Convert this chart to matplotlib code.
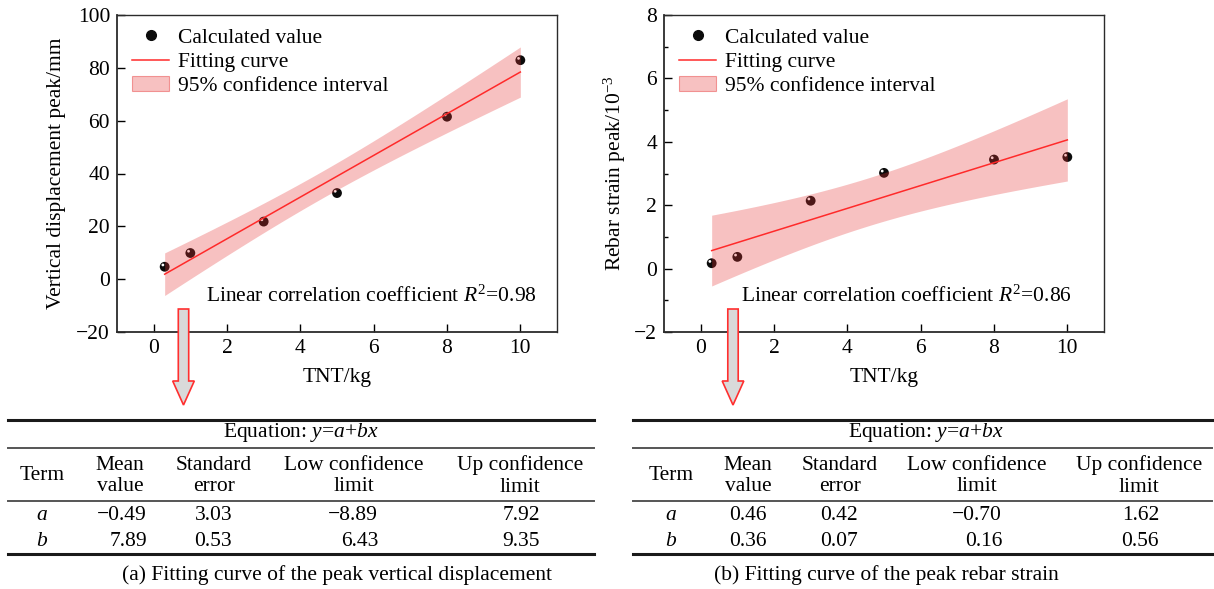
import numpy as np
import matplotlib
matplotlib.use('Agg')
import matplotlib.pyplot as plt
from matplotlib.transforms import Affine2D, offset_copy
from matplotlib.lines import Line2D
from matplotlib.patches import Patch, Polygon
from matplotlib.ticker import MultipleLocator

# Test data
tnt = [0.3, 1, 3, 5, 8, 10]
disp_peak = [4.7, 9.9, 21.8, 32.6, 61.5, 82.9]
strain_peak = [0.17, 0.37, 2.14, 3.02, 3.44, 3.52]

# Fit parameters: mean value, standard error, low limit, up limit
disp_a = [-0.49, 3.03, -8.89, 7.92]
disp_b = [7.89, 0.53, 6.43, 9.35]
strain_a = [0.46, 0.42, -0.70, 1.62]
strain_b = [0.36, 0.07, 0.16, 0.56]
r2_values = [0.98, 0.86]

col_heads = ['Term', 'Mean\nvalue', 'Standard\nerror', 'Low confidence\nlimit', 'Up confidence\nlimit']
captions = ['(a) Fitting curve of the peak vertical displacement',
            '(b) Fitting curve of the peak rebar strain']

W, H = 1214, 589
fs = 15.5
plt.rcParams['font.family'] = 'Liberation Serif'
plt.rcParams['mathtext.fontset'] = 'custom'
plt.rcParams['mathtext.rm'] = 'Liberation Serif'
plt.rcParams['mathtext.it'] = 'Liberation Serif:italic'
plt.rcParams['axes.unicode_minus'] = True

fig = plt.figure(figsize=(W / 100, H / 100), dpi=100)
# pixel coordinates measured from the top-left corner
PX = Affine2D().scale(1 / W, -1 / H).translate(0, 1) + fig.transFigure

band_color = (0.90, 0.20, 0.20, 0.30)
line_color = '#ff2a2a'


def panel(left, y, a, b, ylim, ystep, ylabel, r2, minor, r2_x, ylab_x):
    ax = fig.add_axes([left / W, (H - 332) / H, 440 / W, 317 / H])
    x = np.array(tnt)
    xs = np.linspace(x.min(), x.max(), 200)
    fit = a[0] + b[0] * xs
    t = (a[3] - a[0]) / a[1]
    var = a[1] ** 2 + b[1] ** 2 * (xs ** 2 - 2 * xs * x.mean())
    half = t * np.sqrt(var)

    ax.scatter(x, y, s=50, color='#0b0b0b', edgecolors='none', zorder=2)
    hl = offset_copy(ax.transData, fig=fig, x=-1.8, y=1.8, units='dots')
    ax.scatter(x, y, s=4, color='white', edgecolors='none', transform=hl, zorder=2.1)
    ax.fill_between(xs, fit - half, fit + half, color=band_color, lw=0, zorder=3)
    ax.plot(xs, fit, color=line_color, lw=1.1, zorder=4)

    ax.set_xlim(-1, 11)
    ax.set_ylim(*ylim)
    ax.xaxis.set_major_locator(MultipleLocator(2))
    ax.yaxis.set_major_locator(MultipleLocator(ystep))
    if minor:
        ax.yaxis.set_minor_locator(MultipleLocator(ystep / 2))
    ax.tick_params(which='major', direction='in', length=6, width=1.0, labelsize=fs, pad=5)
    ax.tick_params(which='minor', direction='in', length=3, width=1.0)
    for s in ax.spines.values():
        s.set_color('#2b2b2b')
        s.set_linewidth(1.0)
    ax.spines['left'].set_linewidth(1.3)
    ax.spines['bottom'].set_linewidth(1.3)

    ax.set_xlabel('TNT/kg', fontsize=fs, labelpad=7)
    ax.set_ylabel(ylabel, fontsize=fs)
    ax.yaxis.set_label_coords(ylab_x, 0.5)

    handles = [Line2D([], [], marker='o', ls='none', color='#0b0b0b', markersize=7),
               Line2D([], [], color=line_color, lw=1.1),
               Patch(facecolor=band_color, edgecolor=(0.9, 0.2, 0.2, 0.45), lw=0.8)]
    ax.legend(handles, ['Calculated value', 'Fitting curve', '95% confidence interval'],
              loc='upper left', bbox_to_anchor=(0.035, 0.96), frameon=False,
              fontsize=fs, borderpad=0, borderaxespad=0, handlelength=1.7,
              handletextpad=0.4, labelspacing=0.2)
    ax.text(r2_x, 0.114, r'Linear correlation coefficient $R^{\mathrm{2}}$=%.2f' % r2,
            transform=ax.transAxes, ha='right', va='center', fontsize=fs)
    return ax


panel(117, disp_peak, disp_a, disp_b, (-20, 100), 20,
      'Vertical displacement peak/mm', r2_values[0], False, 0.955, -0.117)
panel(664, strain_peak, strain_a, strain_b, (-2, 8), 2,
      r'Rebar strain peak/10$^{-3}$', r2_values[1], True, 0.927, -0.082)


def arrow(cx):
    sw, hw = 5.2, 10.8
    top, base, tip = 309, 381, 405
    pts = [(cx - sw, top), (cx + sw, top), (cx + sw, base), (cx + hw, base),
           (cx, tip), (cx - hw, base), (cx - sw, base)]
    fig.add_artist(Polygon(pts, closed=True, transform=PX, facecolor='#d9d9d9',
                           edgecolor='#ff2f2f', lw=1.2, zorder=5))


def fmt(v):
    return ('%.2f' % v).replace('-', '\u2212')


def table(x0, x1, eq_x, term_x, head_x, val_right, a, b, caption, cap_x):
    for yy, lw, c in [(420, 2.2, '#1a1a1a'), (447.5, 1.4, '#555555'),
                      (500.5, 1.4, '#555555'), (554, 2.2, '#1a1a1a')]:
        fig.add_artist(Line2D([x0, x1], [yy, yy], transform=PX, color=c, lw=lw))
    fig.text(eq_x, 433, r'Equation: $y$=$a$+$bx$', transform=PX, ha='center',
             va='center', fontsize=fs)
    fig.text(term_x, 476, col_heads[0], transform=PX, ha='center', va='center', fontsize=fs)
    for hx, head in zip(head_x, col_heads[1:]):
        fig.text(hx, 476, head, transform=PX, ha='center', va='center',
                 multialignment='center', fontsize=fs, linespacing=1.15)
    for yy, name, row in [(515.5, '$a$', a), (541.5, '$b$', b)]:
        fig.text(term_x, yy, name, transform=PX, ha='center', va='center', fontsize=fs)
        for xr, v in zip(val_right, row):
            fig.text(xr, yy, fmt(v), transform=PX, ha='right', va='center', fontsize=fs)
    fig.text(cap_x, 575, caption, transform=PX, ha='center', va='center', fontsize=fs)


arrow(183.5)
arrow(733)
table(8, 594, 301, 42, [120, 214, 354, 520], [147, 232, 378, 540],
      disp_a, disp_b, captions[0], 337)
table(633, 1212, 926, 671, [748, 840, 977, 1139], [767, 858, 1002, 1159],
      strain_a, strain_b, captions[1], 886)

fig.savefig('out.png', dpi=100)
